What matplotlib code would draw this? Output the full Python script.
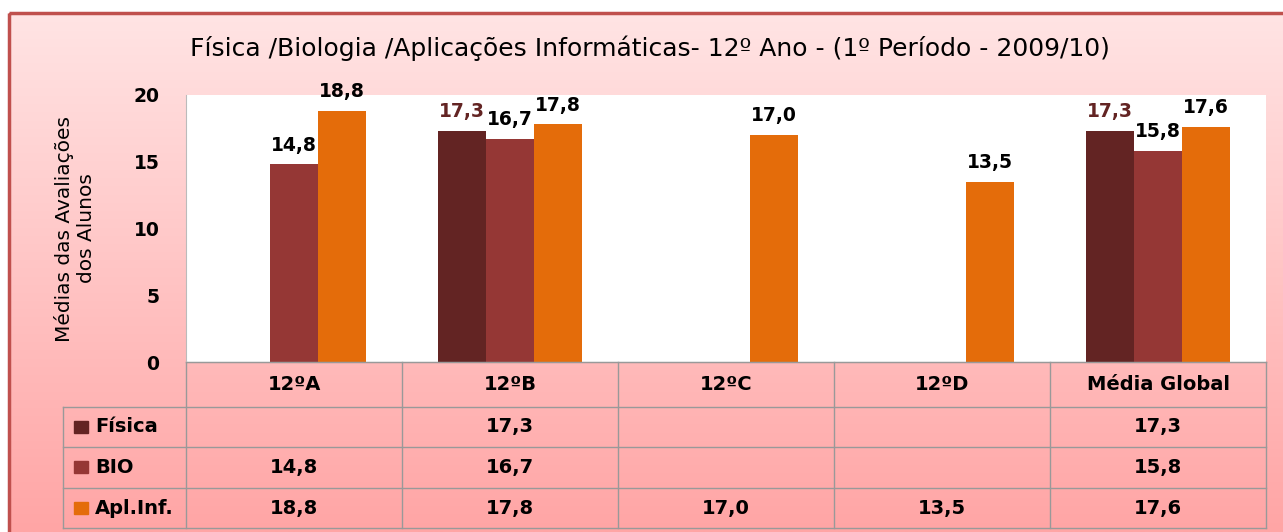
import numpy as np
import matplotlib.pyplot as plt
from matplotlib.patches import Rectangle
import matplotlib.transforms as mtransforms

plt.rcParams['font.family'] = ['DejaVu Sans']

# chart data
categories = ['12ºA', '12ºB', '12ºC', '12ºD', 'Média Global']
series_names = ['Física', 'BIO', 'Apl.Inf.']
fisica = [np.nan, 17.3, np.nan, np.nan, 17.3]
bio = [14.8, 16.7, np.nan, np.nan, 15.8]
aplinf = [18.8, 17.8, 17.0, 13.5, 17.6]
colors = ['#632423', '#953735', '#E46C0A']
label_colors = ['#632423', 'black', 'black']

title = 'Física /Biologia /Aplicações Informáticas- 12º Ano - (1º Período - 2009/10)'
ylabel = 'Médias das Avaliações\ndos Alunos'

W, H = 1283, 532
fig = plt.figure(figsize=(W / 100, H / 100), dpi=100)

# background gradient inside the chart frame
bg = fig.add_axes([0, 0, 1, 1], zorder=-10)
bg.set_axis_off()
bg.set_xlim(0, W)
bg.set_ylim(H, 0)
grad = np.linspace(0, 1, 256).reshape(-1, 1)
top_c = np.array([255, 228, 228]) / 255
bot_c = np.array([255, 165, 165]) / 255
img = top_c + grad[..., None] * (bot_c - top_c)
img = np.repeat(img, 2, axis=1)
bg.imshow(img, extent=[8, W + 5, H, 13], aspect='auto')
bg.add_patch(Rectangle((9, 13), W, H, fill=False, edgecolor='#C0504D', lw=2.5))

# main plot
ax = fig.add_axes([186 / W, 1 - 362 / H, (1266 - 186) / W, (362 - 95) / H])
ax.set_facecolor('white')
x = np.arange(len(categories))
w = 48 / 216
all_series = [fisica, bio, aplinf]
for i, vals in enumerate(all_series):
    pos = x + (i - 1) * w
    ax.bar(pos, vals, width=w, color=colors[i])
    for px, v in zip(pos, vals):
        if not np.isnan(v):
            ax.annotate(f'{v:.1f}'.replace('.', ','), (px, v), xytext=(0, 7),
                        textcoords='offset points', ha='center', va='bottom',
                        fontsize=13.5, fontweight='bold', color=label_colors[i])

ax.set_xlim(-0.5, len(categories) - 0.5)
ax.set_ylim(0, 20)
ax.set_yticks([0, 5, 10, 15, 20])
ax.tick_params(axis='y', length=0, pad=19, labelsize=13.5)
for t in ax.get_yticklabels():
    t.set_fontweight('bold')
ax.set_xticks([])
for s in ['top', 'right']:
    ax.spines[s].set_visible(False)
ax.spines['left'].set_color('#BBBBBB')
ax.spines['bottom'].set_color('#999999')
ax.set_ylabel(ylabel, fontsize=14.5, linespacing=1.2)
ax.yaxis.set_label_coords(-0.083, 0.5)
fig.text(650 / W, 1 - 48 / H, title, ha='center', va='center', fontsize=18)

# data table under the axes
tr = mtransforms.blended_transform_factory(ax.transData, ax.transAxes)
row_y = [0, -0.168, -0.318, -0.472, -0.622]
left_x = -0.5 - (186 - 63) / 216
right_x = len(categories) - 0.5
lc = '#999999'
kw = dict(transform=tr, color=lc, lw=1, clip_on=False)
ax.plot([-0.5, right_x], [row_y[0]] * 2, **kw)
for yy in row_y[1:]:
    ax.plot([left_x, right_x], [yy, yy], **kw)
ax.plot([left_x, left_x], [row_y[1], row_y[-1]], **kw)
for k in range(len(categories) + 1):
    ax.plot([k - 0.5, k - 0.5], [row_y[0], row_y[-1]], **kw)

for k, c in enumerate(categories):
    ax.text(k, (row_y[0] + row_y[1]) / 2, c, transform=tr, ha='center', va='center',
            fontsize=14, fontweight='bold')
sq_x = -0.5 - (186 - 74) / 216
for r, (name, vals) in enumerate(zip(series_names, all_series)):
    yc = (row_y[r + 1] + row_y[r + 2]) / 2
    ax.add_patch(Rectangle((sq_x, yc - 0.022), 14 / 216, 0.045, transform=tr,
                           color=colors[r], clip_on=False))
    ax.text(-0.5 - (186 - 95) / 216, yc, name, transform=tr, ha='left', va='center',
            fontsize=14, fontweight='bold')
    for k, v in enumerate(vals):
        if not np.isnan(v):
            ax.text(k, yc, f'{v:.1f}'.replace('.', ','), transform=tr, ha='center',
                    va='center', fontsize=14, fontweight='bold')

fig.savefig('out.png', dpi=100)
